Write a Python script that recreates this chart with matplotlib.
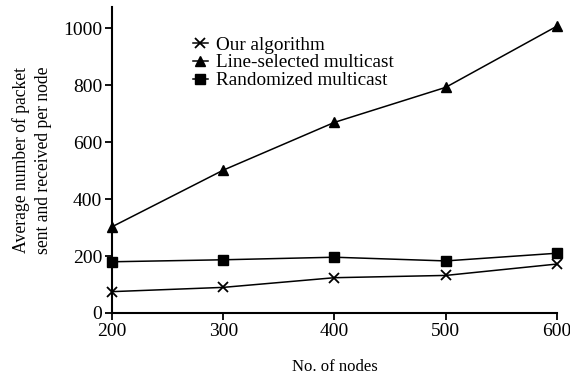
import matplotlib
matplotlib.use("Agg")
import matplotlib.pyplot as plt

nodes = [200, 300, 400, 500, 600]
our_alg = [75, 90, 124, 132, 172]
line_sel = [303, 502, 670, 793, 1008]
randomized = [180, 187, 196, 183, 210]

plt.rcParams['font.family'] = ['Liberation Serif', 'DejaVu Serif']

fig = plt.figure(figsize=(5.7, 3.76), dpi=100)
ax = fig.add_axes([0.1965, 0.1676, 0.7805, 0.8134])

ax.plot(nodes, our_alg, color='black', lw=1.1, marker='x', ms=6.5, mew=1.3, label='Our algorithm', clip_on=False)
ax.plot(nodes, line_sel, color='black', lw=1.1, marker='^', ms=7, label='Line-selected multicast', clip_on=False)
ax.plot(nodes, randomized, color='black', lw=1.1, marker='s', ms=6.5, label='Randomized multicast', clip_on=False)

ax.set_xlim(200, 600)
ax.set_ylim(0, 1075)
ax.set_xticks(nodes)
ax.set_yticks([0, 200, 400, 600, 800, 1000])
ax.spines['top'].set_visible(False)
ax.spines['right'].set_visible(False)
ax.spines['left'].set_linewidth(1.5)
ax.spines['bottom'].set_linewidth(1.5)
ax.tick_params(direction='out', length=5, width=1.3, labelsize=14, pad=2)

ax.set_xlabel('No. of nodes', fontsize=12, labelpad=14)
ax.set_ylabel('Average number of packet\nsent and received per node', fontsize=12.7, labelpad=8, linespacing=1.35)

ax.legend(loc='upper left', bbox_to_anchor=(0.164, 0.93), frameon=False, fontsize=13.8,
          handlelength=0.8, handletextpad=0.4, labelspacing=0.02, borderaxespad=0)

fig.savefig('out.png', dpi=100)
